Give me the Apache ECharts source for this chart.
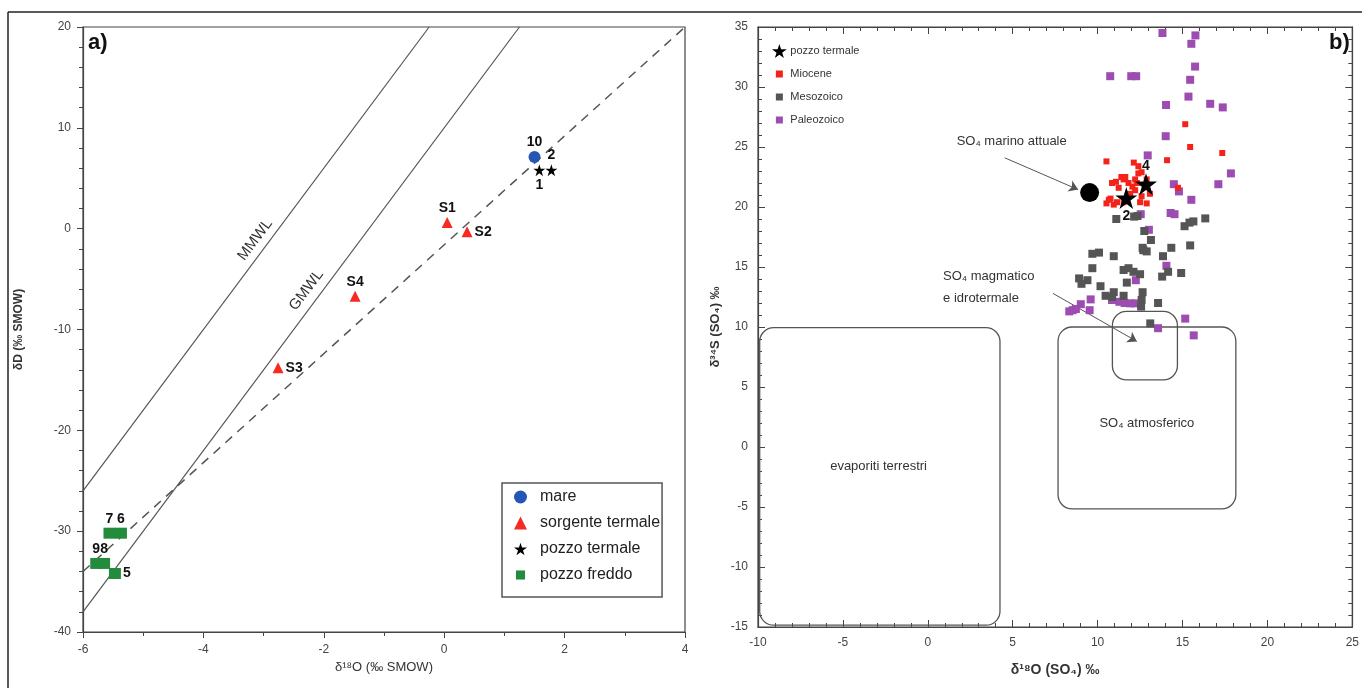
<!DOCTYPE html>
<html><head><meta charset="utf-8">
<script src="https://cdn.jsdelivr.net/npm/echarts@6/dist/echarts.min.js"></script>
<style>html,body{margin:0;padding:0;background:#fff}#c{width:1362px;height:688px}</style>
</head><body><div id="c"></div>
<script>
// ---------- Panel a) data ----------
const mareData = [[1.5, 7.1]];
const mareLabels = ['10'];
const sorgenteData = [[0.05, 0.6], [0.38, -0.3], [-2.76, -13.8], [-1.48, -6.7]];
const sorgenteLabels = ['S1', 'S2', 'S3', 'S4'];
const termaleAData = [[1.58, 5.8], [1.78, 5.8]];
const termaleALabels = ['1', '2'];
const freddoData = [[-5.47, -34.2], [-5.37, -30.2], [-5.56, -30.2], [-5.65, -33.2], [-5.78, -33.2]];
const freddoLabels = ['5', '6', '7', '8', '9'];
const mmwlLine = [[-6, -26], [-0.25, 20]];
const gmwlLine = [[-6, -38], [1.25, 20]];
const localLine = [[-6, -34], [4, 20]];
const lineNames = ['MMWL', 'GMWL'];
const lineNamePos = [[-3.14, -1.1], [-2.29, -6.1]];
const axisA_x = { min: -6, max: 4, interval: 2 };
const axisA_y = { min: -40, max: 20, interval: 10 };

// ---------- Panel b) data ----------
const termaleBData = [[11.69, 20.75], [12.85, 21.9]];
const termaleBLabels = ['2', '4'];
const marinoData = [[9.53, 21.2]];
const mioceneData = [[15.16,26.9],[15.45,25.0],[17.34,24.5],[10.52,23.8],[12.13,23.7],[14.09,23.9],[12.4,23.4],[14.73,21.6],
  [10.85,22.0],[11.08,22.1],[11.24,21.6],[11.53,22.3],[11.63,22.5],[11.82,22.0],[12.05,21.7],[12.21,21.4],[11.92,21.1],
  [10.66,20.6],[10.52,20.3],[10.95,20.2],[11.14,20.4],[11.53,20.4],[12.5,20.4],[12.89,20.3],[12.31,22.0],[12.4,22.8],
  [12.59,22.9],[13.08,21.1],[12.89,22.3],[10.76,20.7],[12.21,22.3],[12.79,21.7],[12.59,20.9],[11.4,22.5]];
const mesozoicoData = [[11.1,19.0],[12.15,19.2],[12.35,19.25],[15.12,18.4],[15.41,18.7],[15.64,18.8],[16.34,19.05],[12.75,18.0],
  [13.14,17.25],[14.34,16.6],[15.45,16.8],[9.69,16.1],[10.08,16.2],[10.95,15.9],[12.69,16.4],[12.89,16.3],[13.85,15.9],
  [9.69,14.9],[11.53,14.75],[11.82,14.9],[12.11,14.6],[12.5,14.4],[14.15,14.6],[14.92,14.5],[13.8,14.2],[8.91,14.05],
  [9.05,13.6],[9.4,13.9],[10.17,13.4],[10.95,12.9],[11.72,13.7],[12.65,12.9],[10.47,12.6],[10.85,12.5],[11.53,12.6],
  [12.59,12.25],[12.56,11.7],[13.56,12.0],[13.1,10.3],[12.65,16.6]];
const paleozoicoData = [[13.82,34.5],[15.76,34.3],[15.52,33.6],[15.74,31.7],[10.74,30.9],[11.98,30.9],[12.27,30.9],[15.45,30.6],
  [15.35,29.2],[14.03,28.5],[16.63,28.6],[17.37,28.3],[14.01,25.9],[12.95,24.3],[17.85,22.8],[17.11,21.9],[14.49,21.9],
  [14.79,21.3],[15.52,20.6],[14.3,19.5],[14.53,19.4],[12.54,19.4],[13.02,18.1],[14.05,15.1],[12.25,13.9],[9.59,12.3],
  [9.01,11.9],[8.53,11.4],[8.72,11.5],[8.33,11.3],[9.53,11.4],[10.85,12.25],[11.28,12.1],[11.59,12.0],[11.92,11.97],
  [12.21,11.97],[13.56,9.9],[15.16,10.7],[15.66,9.3]];
const fieldBoxes = [[-9.9, 9.95, 4.25, -14.85], [7.67, 10.0, 18.14, -5.15], [10.87, 11.3, 14.7, 5.6]];
const annotTexts = ['SO\u2084 marino attuale', 'SO\u2084 magmatico', 'e idrotermale', 'SO\u2084 atmosferico', 'evaporiti terrestri'];
const annotPos = [[4.94, 25.5], [0.9, 14.25], [0.9, 12.4], [12.9, 2.0], [-2.9, -1.6]];
const arrows = [[[4.53, 24.1], [8.85, 21.45]], [[7.37, 12.8], [12.31, 8.8]]];
const axisB_x = { min: -10, max: 25, interval: 5 };
const axisB_y = { min: -15, max: 35, interval: 5 };

// ---------- styling ----------
const FONT = 'Liberation Sans, Arial, sans-serif';
const STAR = 'path://M50,0 L61.2,34.5 L97.6,34.5 L68.2,55.9 L79.4,90.5 L50,69.1 L20.6,90.5 L31.8,55.9 L2.4,34.5 L38.8,34.5 Z';
const SQ_SMALL = 'path://M0,0 M20,20 M5,5 L15,5 L15,15 L5,15 Z';
const SQ_MED = 'path://M0,0 M20,20 M3,3 L17,3 L17,17 L3,17 Z';
const labelPosA = { '10': 'top', 'S1': 'top', 'S2': 'right', 'S3': 'right', 'S4': 'top', '1': 'bottom', '2': 'top',
  '5': 'right', '6': 'top', '7': 'top', '8': 'top', '9': 'top' };
const labelPosB = { '2': 'bottom', '4': 'top' };
const alignB = ['center', 'left', 'left', 'center', 'center'];
const ptLabel = { show: true, formatter: '{b}', fontWeight: 'bold', fontSize: 14, color: '#111', fontFamily: FONT, distance: 2 };

function withLabels(data, labels, posMap) {
  return data.map((p, i) => ({ value: p, name: labels[i], label: { position: posMap[labels[i]] } }));
}

const axisLbl = { fontSize: 12, color: '#444', fontFamily: FONT };
const axLine = { onZero: false, lineStyle: { color: '#444', width: 1.2 } };
const tickCol = { color: '#444' };

const chart = echarts.init(document.getElementById('c'), null, { renderer: 'canvas' });

const option = {
  animation: false,
  backgroundColor: '#fff',
  textStyle: { fontFamily: FONT },
  grid: [
    { left: 83, top: 27, width: 602, height: 605, show: true, borderColor: '#444', borderWidth: 1.2, backgroundColor: 'transparent' },
    { left: 758, top: 27, width: 602, height: 600, show: true, borderColor: '#444', borderWidth: 1.2, backgroundColor: 'transparent' }
  ],
  xAxis: [
    { gridIndex: 0, type: 'value', ...axisA_x, splitLine: { show: false }, axisLine: axLine,
      axisTick: { inside: false, length: 6, lineStyle: tickCol }, minorTick: { show: true, splitNumber: 2, length: 4, lineStyle: tickCol },
      axisLabel: { ...axisLbl, margin: 12 },
      name: 'δ¹⁸O (‰ SMOW)', nameLocation: 'middle', nameGap: 28, nameTextStyle: { fontSize: 13, color: '#333', fontFamily: FONT } },
    { gridIndex: 1, type: 'value', ...axisB_x, splitLine: { show: false }, axisLine: axLine,
      axisTick: { inside: true, length: 7, lineStyle: tickCol }, minorTick: { show: true, splitNumber: 5, length: 4, lineStyle: tickCol },
      axisLabel: { ...axisLbl, margin: 10 },
      name: 'δ¹⁸O (SO₄) ‰', nameLocation: 'middle', nameGap: 36, nameTextStyle: { fontSize: 14, fontWeight: 'bold', color: '#333', fontFamily: FONT } },
    { gridIndex: 1, type: 'value', position: 'top', ...axisB_x, splitLine: { show: false }, axisLine: axLine,
      axisTick: { inside: true, length: 7, lineStyle: tickCol }, minorTick: { show: true, splitNumber: 5, length: 4, lineStyle: tickCol },
      axisLabel: { show: false } }
  ],
  yAxis: [
    { gridIndex: 0, type: 'value', ...axisA_y, splitLine: { show: false }, axisLine: axLine,
      axisTick: { inside: false, length: 6, lineStyle: tickCol }, minorTick: { show: true, splitNumber: 5, length: 4, lineStyle: tickCol },
      axisLabel: { ...axisLbl, margin: 12 },
      name: 'δD (‰ SMOW)', nameLocation: 'middle', nameGap: 58, nameTextStyle: { fontSize: 12, fontWeight: 'bold', color: '#333', fontFamily: FONT } },
    { gridIndex: 1, type: 'value', ...axisB_y, splitLine: { show: false }, axisLine: axLine,
      axisTick: { inside: true, length: 7, lineStyle: tickCol }, minorTick: { show: true, splitNumber: 5, length: 4, lineStyle: tickCol },
      axisLabel: { ...axisLbl, margin: 10 },
      name: 'δ³⁴S (SO₄) ‰', nameLocation: 'middle', nameGap: 36, nameTextStyle: { fontSize: 13, fontWeight: 'bold', color: '#333', fontFamily: FONT } },
    { gridIndex: 1, type: 'value', position: 'right', ...axisB_y, splitLine: { show: false }, axisLine: axLine,
      axisTick: { inside: true, length: 7, lineStyle: tickCol }, minorTick: { show: true, splitNumber: 5, length: 4, lineStyle: tickCol },
      axisLabel: { show: false } }
  ],
  legend: [
    { data: [{ name: 'mare' }, { name: 'sorgente termale' }, { name: 'pozzo termale' }, { name: 'pozzo freddo', icon: SQ_MED }],
      orient: 'vertical', left: 502, top: 483,
      borderColor: '#555', borderWidth: 1.5, padding: [6, 2, 14, 12], itemGap: 10, itemWidth: 13, itemHeight: 13,
      textStyle: { fontSize: 16, color: '#222', fontFamily: FONT, padding: [0, 0, 0, 8] } },
    { data: [{ name: 'pozzo termale' }, { name: 'Miocene', icon: SQ_SMALL }, { name: 'Mesozoico', icon: SQ_SMALL }, { name: 'Paleozoico', icon: SQ_SMALL }],
      orient: 'vertical', left: 772, top: 44,
      itemGap: 9, itemWidth: 16, itemHeight: 14, padding: 0,
      textStyle: { fontSize: 11, color: '#333', fontFamily: FONT, padding: [0, 0, 0, -2] } }
  ],
  graphic: [
    { type: 'line', shape: { x1: 8, y1: 12, x2: 1362, y2: 12 }, style: { stroke: '#222', lineWidth: 1.5 } },
    { type: 'line', shape: { x1: 8, y1: 12, x2: 8, y2: 688 }, style: { stroke: '#222', lineWidth: 1.5 } },
    { type: 'text', left: 88, top: 32, style: { text: 'a)', font: 'bold 22px ' + FONT, fill: '#111' } },
    { type: 'text', left: 1329, top: 32, style: { text: 'b)', font: 'bold 22px ' + FONT, fill: '#111' } }
  ],
  series: [
    // panel a lines
    { type: 'line', name: 'MMWL', xAxisIndex: 0, yAxisIndex: 0, data: mmwlLine, symbol: 'none', lineStyle: { color: '#555', width: 1.2 }, z: 1 },
    { type: 'line', name: 'GMWL', xAxisIndex: 0, yAxisIndex: 0, data: gmwlLine, symbol: 'none', lineStyle: { color: '#555', width: 1.2 }, z: 1 },
    { type: 'line', name: 'locale', xAxisIndex: 0, yAxisIndex: 0, data: localLine, symbol: 'none', lineStyle: { color: '#555', width: 1.5, type: [9, 7] }, z: 1 },
    { type: 'custom', name: 'lineNames', xAxisIndex: 0, yAxisIndex: 0, z: 2,
      data: lineNamePos.map((p, i) => [p[0], p[1], i]),
      renderItem: function (params, api) {
        const i = api.value(2);
        const ln = i === 0 ? mmwlLine : gmwlLine;
        const a = api.coord(ln[0]), b = api.coord(ln[1]);
        const ang = -Math.atan2(b[1] - a[1], b[0] - a[0]);
        const p = api.coord([api.value(0), api.value(1)]);
        return { type: 'text', x: p[0], y: p[1], rotation: ang,
          style: { text: lineNames[i], fontSize: 15, fill: '#333', fontFamily: FONT, align: 'center', verticalAlign: 'middle' } };
      } },
    // panel a points
    { type: 'scatter', name: 'mare', xAxisIndex: 0, yAxisIndex: 0, symbol: 'circle', symbolSize: 12,
      itemStyle: { color: '#2456b4', opacity: 1 }, label: ptLabel, data: withLabels(mareData, mareLabels, labelPosA), z: 5 },
    { type: 'scatter', name: 'sorgente termale', xAxisIndex: 0, yAxisIndex: 0, symbol: 'triangle', symbolSize: 11,
      itemStyle: { color: '#f52a22', opacity: 1 }, label: ptLabel, data: withLabels(sorgenteData, sorgenteLabels, labelPosA), z: 5 },
    { type: 'scatter', name: 'pozzo termale', xAxisIndex: 0, yAxisIndex: 0, symbol: STAR, symbolSize: 12,
      itemStyle: { color: '#000', opacity: 1 }, label: ptLabel, data: withLabels(termaleAData, termaleALabels, labelPosA), z: 5 },
    { type: 'scatter', name: 'pozzo freddo', xAxisIndex: 0, yAxisIndex: 0, symbol: 'rect', symbolSize: [12, 11],
      itemStyle: { color: '#228c3c', opacity: 1 }, label: ptLabel, data: withLabels(freddoData, freddoLabels, labelPosA), z: 5 },
    // panel b field boxes
    { type: 'custom', name: 'campi', xAxisIndex: 1, yAxisIndex: 1, z: 2, encode: { x: [0, 2], y: [1, 3] },
      data: fieldBoxes,
      renderItem: function (params, api) {
        const a = api.coord([api.value(0), api.value(1)]);
        const b = api.coord([api.value(2), api.value(3)]);
        return { type: 'rect', shape: { x: Math.min(a[0], b[0]), y: Math.min(a[1], b[1]), width: Math.abs(b[0] - a[0]), height: Math.abs(b[1] - a[1]), r: 14 },
          style: { fill: 'none', stroke: '#555', lineWidth: 1.3 } };
      } },
    { type: 'custom', name: 'testi', xAxisIndex: 1, yAxisIndex: 1, z: 3,
      data: annotPos.map((p, i) => [p[0], p[1], i]),
      renderItem: function (params, api) {
        const i = api.value(2);
        const p = api.coord([api.value(0), api.value(1)]);
        return { type: 'text', x: p[0], y: p[1],
          style: { text: annotTexts[i], fontSize: 13, fill: '#333', fontFamily: FONT, align: alignB[i], verticalAlign: 'middle' } };
      } },
    { type: 'lines', name: 'frecce', coordinateSystem: 'cartesian2d', xAxisIndex: 1, yAxisIndex: 1, z: 3,
      symbol: ['none', 'arrow'], symbolSize: 9, lineStyle: { color: '#555', width: 1, opacity: 1 },
      data: arrows.map(c => ({ coords: c })) },
    // panel b points
    { type: 'scatter', name: 'Paleozoico', xAxisIndex: 1, yAxisIndex: 1, symbol: 'rect', symbolSize: 8,
      itemStyle: { color: '#9d4cb2', opacity: 1 }, data: paleozoicoData, z: 4 },
    { type: 'scatter', name: 'Mesozoico', xAxisIndex: 1, yAxisIndex: 1, symbol: 'rect', symbolSize: 8,
      itemStyle: { color: '#555555', opacity: 1 }, data: mesozoicoData, z: 4 },
    { type: 'scatter', name: 'Miocene', xAxisIndex: 1, yAxisIndex: 1, symbol: 'rect', symbolSize: 6,
      itemStyle: { color: '#f4231a', opacity: 1 }, data: mioceneData, z: 5 },
    { type: 'scatter', name: 'SO4 marino attuale', xAxisIndex: 1, yAxisIndex: 1, symbol: 'circle', symbolSize: 19,
      itemStyle: { color: '#000', opacity: 1 }, data: marinoData, z: 6 },
    { type: 'scatter', name: 'pozzo termale', xAxisIndex: 1, yAxisIndex: 1, symbol: STAR, symbolSize: 22,
      itemStyle: { color: '#000', opacity: 1 }, label: { ...ptLabel, distance: 0 }, data: withLabels(termaleBData, termaleBLabels, labelPosB), z: 7 }
  ]
};
chart.setOption(option);
</script>
</body></html>
